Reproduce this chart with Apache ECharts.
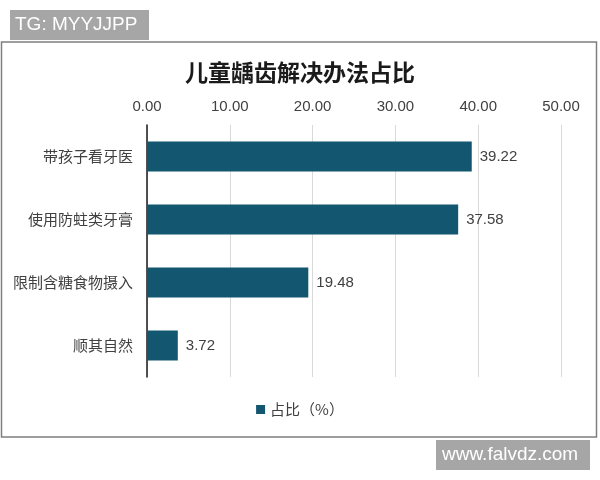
<!DOCTYPE html>
<html><head><meta charset="utf-8">
<script src="https://cdn.jsdelivr.net/npm/echarts@6/dist/echarts.min.js"></script>
<style>html,body{margin:0;padding:0;background:#fff}#c{width:600px;height:480px}</style>
</head><body><div id="c"></div>
<script>
const categories = ['带孩子看牙医','使用防蛀类牙膏','限制含糖食物摄入','顺其自然'];
const values = [39.22, 37.58, 19.48, 3.72];
const seriesName = '占比（%）';
const titleText = '儿童龋齿解决办法占比';
const axisMin = 0, axisMax = 50, axisStep = 10;

const chart = echarts.init(document.getElementById('c'));
const font = '"Microsoft YaHei","Noto Sans CJK SC",sans-serif';
const numFont = 'Arial,"Liberation Sans","Noto Sans CJK SC",sans-serif';
chart.setOption({
  backgroundColor: '#fff',
  animation: false,
  title: {text: titleText, left: 'center', top: 56,
    textStyle: {fontFamily: font, fontSize: 23, fontWeight: 'bold', color: '#1a1a1a'}},
  grid: {left: 147, right: 39, top: 125, bottom: 103},
  xAxis: {type: 'value', position: 'top', min: axisMin, max: axisMax, interval: axisStep,
    axisLine: {show: false}, axisTick: {show: false},
    axisLabel: {formatter: v => v.toFixed(2), color: '#404040', fontSize: 15, fontFamily: numFont, margin: 11},
    splitLine: {lineStyle: {color: '#d9d9d9', width: 1}}},
  yAxis: {type: 'category', inverse: true, data: categories,
    axisLine: {lineStyle: {color: '#1a1a1a', width: 1.5}}, axisTick: {show: false},
    axisLabel: {color: '#404040', fontSize: 15, fontFamily: font, margin: 14}},
  legend: {bottom: 58, left: 'center', icon: 'rect', itemWidth: 9, itemHeight: 9, itemGap: 6,
    textStyle: {color: '#404040', fontSize: 15, fontFamily: font}, data: [seriesName]},
  series: [{name: seriesName, type: 'bar', data: values, barWidth: 30,
    itemStyle: {color: '#135670'},
    label: {show: true, position: 'right', distance: 8, color: '#404040', fontSize: 15, fontFamily: numFont,
      formatter: p => p.value.toFixed(2)}}],
  graphic: [
    {type: 'rect', shape: {x: 1.5, y: 42, width: 595, height: 395}, style: {fill: 'none', stroke: '#7f7f7f', lineWidth: 1.5}, z: 100},
    {type: 'rect', shape: {x: 10, y: 10, width: 139, height: 30}, style: {fill: '#a6a6a6'}, z: 101},
    {type: 'text', x: 15, y: 25, style: {text: 'TG: MYYJJPP', fill: '#fff', font: '19px Arial, "Liberation Sans", sans-serif', textVerticalAlign: 'middle'}, z: 102},
    {type: 'rect', shape: {x: 436, y: 440, width: 154, height: 30}, style: {fill: '#a6a6a6'}, z: 101},
    {type: 'text', x: 442, y: 455, style: {text: 'www.falvdz.com', fill: '#fff', font: '19px Arial, "Liberation Sans", sans-serif', textVerticalAlign: 'middle'}, z: 102}
  ]
});
</script></body></html>
